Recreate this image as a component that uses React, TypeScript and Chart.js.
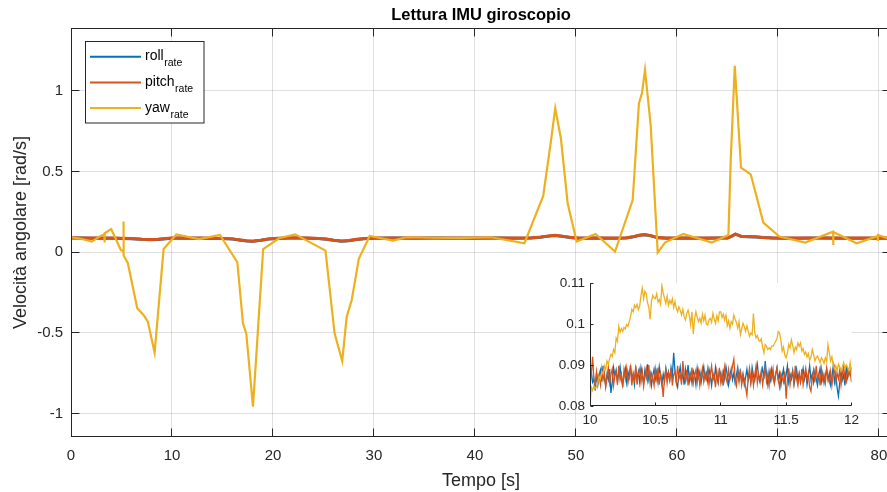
import React, { useEffect, useRef } from 'react';
import { Chart, registerables } from 'chart.js';

Chart.register(...registerables);

const FONT = "'Liberation Sans', Arial, Helvetica, sans-serif";
const AXIS_COLOR = '#262626';
const GRID_COLOR = 'rgba(38,38,38,0.15)';
const SERIES_COLORS = ['#0072BD', '#D95319', '#EDB120'];

const seriesNames = ['roll', 'pitch', 'yaw'];
const seriesSub = 'rate';

const titleText = 'Lettura IMU giroscopio';
const xTitle = 'Tempo [s]';
const yTitle = 'Velocità angolare [rad/s]';

const xTicks = [0, 10, 20, 30, 40, 50, 60, 70, 80];
const yTicks = [-1, -0.5, 0, 0.5, 1];
const xRange = [0, 81.2];
const yRange = [-1.145, 1.39];

// main plot: roll / pitch (same time base)
const rpT = [
  0, 1, 2, 3, 4, 5, 6, 7, 7.8, 8.6,
  9.4, 10, 11, 12, 13, 14, 15, 16, 16.8, 17.4,
  18, 18.8, 19.6, 20.5, 21.5, 22.5, 23.5, 24.5, 25.3, 26,
  26.8, 27.5, 28.3, 29.2, 30, 32, 34, 36, 38, 40,
  42, 44, 45.5, 46.5, 47.3, 47.9, 48.6, 49.4, 50.2, 51,
  52, 53, 54, 55, 55.7, 56.3, 56.8, 57.4, 58.1, 59,
  60, 61, 62, 63, 64, 65, 65.4, 65.8, 66.4, 67,
  67.8, 68.5, 69.5, 70.5, 72, 74, 76, 78, 80, 81.2,
];
const pitchV = [
  0.090, 0.089, 0.088, 0.089, 0.088, 0.087, 0.085, 0.081, 0.079, 0.080,
  0.085, 0.088, 0.089, 0.088, 0.088, 0.087, 0.086, 0.083, 0.076, 0.071,
  0.069, 0.075, 0.083, 0.087, 0.089, 0.090, 0.088, 0.086, 0.082, 0.075,
  0.070, 0.073, 0.080, 0.086, 0.088, 0.089, 0.088, 0.089, 0.088, 0.088,
  0.089, 0.088, 0.089, 0.094, 0.101, 0.105, 0.100, 0.093, 0.088, 0.088,
  0.089, 0.088, 0.088, 0.090, 0.097, 0.106, 0.110, 0.103, 0.091, 0.088,
  0.088, 0.089, 0.088, 0.088, 0.089, 0.089, 0.100, 0.113, 0.098, 0.097,
  0.096, 0.092, 0.089, 0.088, 0.088, 0.089, 0.088, 0.088, 0.088, 0.088,
];
const rollV = [
  0.089, 0.088, 0.087, 0.087, 0.087, 0.086, 0.084, 0.080, 0.078, 0.079,
  0.084, 0.087, 0.088, 0.087, 0.087, 0.086, 0.085, 0.082, 0.075, 0.070,
  0.068, 0.074, 0.082, 0.086, 0.088, 0.089, 0.087, 0.085, 0.081, 0.074,
  0.069, 0.072, 0.079, 0.085, 0.087, 0.088, 0.087, 0.088, 0.087, 0.087,
  0.088, 0.087, 0.088, 0.093, 0.100, 0.104, 0.099, 0.092, 0.087, 0.087,
  0.088, 0.087, 0.087, 0.089, 0.096, 0.105, 0.109, 0.102, 0.090, 0.087,
  0.087, 0.088, 0.087, 0.087, 0.088, 0.088, 0.099, 0.112, 0.097, 0.096,
  0.095, 0.091, 0.088, 0.087, 0.087, 0.088, 0.087, 0.087, 0.087, 0.087,
];

// main plot: yaw
const yawT = [
  0, 1, 2.06, 2.9, 3.3, 3.32, 3.34, 3.98, 4.95, 5.18,
  5.2, 5.22, 5.63, 6.56, 7.2, 7.61, 8.28, 9.17, 10.43, 12.7,
  14.75, 16.47, 17.03, 17.36, 18.02, 19.03, 20.6, 22.2, 25.2, 26.1,
  26.86, 27.3, 27.8, 28.5, 29.58, 31.9, 33.2, 36, 38.5, 41.6,
  44.9, 46.76, 47.5, 47.95, 48.51, 49.18, 50.07, 51.95, 53.87, 55.62,
  56.24, 56.54, 56.84, 57.4, 58.1, 58.82, 60.63, 63.45, 65.1, 65.33,
  65.73, 66.35, 67.31, 68.56, 70.15, 72.7, 75.46, 75.48, 75.5, 77.8,
  79.88, 79.9, 79.92, 81.2,
];
const yawV = [
  0.093, 0.084, 0.066, 0.100, 0.112, 0.060, 0.118, 0.144, 0.012, 0.008,
  0.190, -0.020, -0.068, -0.347, -0.390, -0.430, -0.622, 0.020, 0.110, 0.082,
  0.107, -0.062, -0.440, -0.505, -0.957, 0.019, 0.087, 0.111, 0.010, -0.502,
  -0.674, -0.400, -0.296, -0.040, 0.101, 0.072, 0.093, 0.090, 0.088, 0.093,
  0.056, 0.349, 0.676, 0.893, 0.707, 0.304, 0.066, 0.113, 0.004, 0.324,
  0.924, 0.986, 1.130, 0.789, -0.002, 0.060, 0.113, 0.060, 0.107, 0.572,
  1.155, 0.524, 0.483, 0.184, 0.097, 0.060, 0.128, 0.045, 0.125, 0.056,
  0.100, 0.070, 0.107, 0.080,
];

// inset (zoom 10 s - 12 s), one sample every 0.01 s
const insetStart = 10;
const insetStep = 0.01;
const insetXTicks = [10, 10.5, 11, 11.5, 12];
const insetYTicks = [0.08, 0.09, 0.1, 0.11];
const insetXRange = [10, 12];
const insetYRange = [0.08, 0.11];

const insetYaw = [
  0.0800, 0.0846, 0.0838, 0.0849, 0.0843, 0.0846, 0.0858, 0.0872, 0.0866, 0.0884,
  0.0878, 0.0898, 0.0889, 0.0910, 0.0902, 0.0915, 0.0926, 0.0921, 0.0938, 0.0930,
  0.0966, 0.0958, 0.0994, 0.0980, 0.0989, 0.0982, 0.0992, 0.0988, 0.0999, 0.0994,
  0.1006, 0.1018, 0.1036, 0.1030, 0.1046, 0.1040, 0.1048, 0.1035, 0.1044, 0.1070,
  0.1088, 0.1062, 0.1080, 0.1074, 0.1052, 0.1040, 0.1012, 0.1056, 0.1070, 0.1064,
  0.1062, 0.1074, 0.1054, 0.1060, 0.1048, 0.1094, 0.1076, 0.1062, 0.1050, 0.1068,
  0.1046, 0.1058, 0.1050, 0.1062, 0.1040, 0.1055, 0.1038, 0.1030, 0.1042, 0.1034,
  0.1022, 0.1036, 0.1018, 0.1010, 0.1026, 0.1034, 0.1020, 0.0998, 0.1030, 0.0976,
  0.1012, 0.1030, 0.1016, 0.1006, 0.1014, 0.1002, 0.1024, 0.1008, 0.1022, 0.1000,
  0.0998, 0.1010, 0.1014, 0.1004, 0.1026, 0.1012, 0.1002, 0.1020, 0.1008, 0.1030,
  0.1030, 0.1016, 0.1024, 0.1010, 0.1022, 0.0996, 0.1008, 0.0990, 0.1006, 0.1000,
  0.1022, 0.1012, 0.1004, 0.0990, 0.1006, 0.0974, 0.0988, 0.1002, 0.0994, 0.0982,
  0.0996, 0.0982, 0.0970, 0.0978, 0.0974, 0.1026, 0.0980, 0.0966, 0.0972, 0.0960,
  0.0958, 0.0964, 0.0944, 0.0930, 0.0950, 0.0946, 0.0938, 0.0942, 0.0938, 0.0946,
  0.0946, 0.0952, 0.0958, 0.0964, 0.0982, 0.0978, 0.0960, 0.0934, 0.0944, 0.0924,
  0.0918, 0.0930, 0.0950, 0.0942, 0.0962, 0.0948, 0.0930, 0.0944, 0.0938, 0.0954,
  0.0946, 0.0954, 0.0934, 0.0940, 0.0926, 0.0932, 0.0920, 0.0928, 0.0912, 0.0918,
  0.0938, 0.0926, 0.0910, 0.0918, 0.0922, 0.0914, 0.0906, 0.0918, 0.0912, 0.0904,
  0.0918, 0.0908, 0.0950, 0.0930, 0.0910, 0.0920, 0.0900, 0.0890, 0.0898, 0.0886,
  0.0902, 0.0894, 0.0886, 0.0896, 0.0906, 0.0890, 0.0900, 0.0894, 0.0886, 0.0906,
  0.0878,
];
const insetRoll = [
  0.0874, 0.0884, 0.0858, 0.0866, 0.0838, 0.0880, 0.0852, 0.0876, 0.0888, 0.0860,
  0.0898, 0.0870, 0.0850, 0.0878, 0.0864, 0.0890, 0.0832, 0.0856, 0.0894, 0.0874,
  0.0888, 0.0860, 0.0880, 0.0896, 0.0866, 0.0850, 0.0876, 0.0892, 0.0858, 0.0884,
  0.0870, 0.0900, 0.0864, 0.0878, 0.0852, 0.0890, 0.0866, 0.0884, 0.0858, 0.0894,
  0.0876, 0.0856, 0.0888, 0.0870, 0.0902, 0.0864, 0.0880, 0.0850, 0.0874, 0.0890,
  0.0866, 0.0884, 0.0858, 0.0896, 0.0876, 0.0852, 0.0878, 0.0860, 0.0892, 0.0870,
  0.0884, 0.0864, 0.0894, 0.0874, 0.0930, 0.0886, 0.0858, 0.0846, 0.0878, 0.0896,
  0.0864, 0.0880, 0.0852, 0.0890, 0.0870, 0.0900, 0.0860, 0.0878, 0.0856, 0.0886,
  0.0876, 0.0852, 0.0892, 0.0870, 0.0884, 0.0858, 0.0878, 0.0896, 0.0866, 0.0880,
  0.0860, 0.0890, 0.0874, 0.0850, 0.0880, 0.0864, 0.0894, 0.0870, 0.0856, 0.0888,
  0.0878, 0.0858, 0.0884, 0.0866, 0.0896, 0.0876, 0.0852, 0.0874, 0.0890, 0.0864,
  0.0880, 0.0856, 0.0876, 0.0894, 0.0866, 0.0884, 0.0858, 0.0878, 0.0852, 0.0870,
  0.0890, 0.0864, 0.0880, 0.0856, 0.0894, 0.0874, 0.0862, 0.0884, 0.0902, 0.0870,
  0.0858, 0.0880, 0.0892, 0.0866, 0.0910, 0.0876, 0.0852, 0.0884, 0.0864, 0.0890,
  0.0870, 0.0856, 0.0878, 0.0894, 0.0864, 0.0880, 0.0850, 0.0874, 0.0890, 0.0860,
  0.0876, 0.0898, 0.0858, 0.0878, 0.0866, 0.0886, 0.0852, 0.0870, 0.0890, 0.0864,
  0.0880, 0.0858, 0.0876, 0.0892, 0.0866, 0.0884, 0.0852, 0.0874, 0.0898, 0.0864,
  0.0878, 0.0858, 0.0884, 0.0866, 0.0850, 0.0876, 0.0892, 0.0860, 0.0880, 0.0856,
  0.0874, 0.0890, 0.0864, 0.0880, 0.0852, 0.0870, 0.0896, 0.0858, 0.0878, 0.0844,
  0.0824, 0.0856, 0.0884, 0.0864, 0.0876, 0.0850, 0.0900, 0.0870, 0.0886, 0.0878,
  0.0894,
];
const insetPitch = [
  0.0848, 0.0878, 0.0920, 0.0864, 0.0850, 0.0884, 0.0858, 0.0876, 0.0852, 0.0890,
  0.0864, 0.0880, 0.0846, 0.0870, 0.0894, 0.0856, 0.0876, 0.0890, 0.0850, 0.0874,
  0.0884, 0.0852, 0.0898, 0.0864, 0.0878, 0.0846, 0.0888, 0.0866, 0.0892, 0.0856,
  0.0876, 0.0894, 0.0850, 0.0880, 0.0864, 0.0898, 0.0852, 0.0878, 0.0890, 0.0858,
  0.0884, 0.0848, 0.0874, 0.0892, 0.0864, 0.0900, 0.0856, 0.0880, 0.0870, 0.0850,
  0.0890, 0.0866, 0.0894, 0.0852, 0.0878, 0.0860, 0.0822, 0.0870, 0.0888, 0.0856,
  0.0880, 0.0864, 0.0892, 0.0850, 0.0876, 0.0884, 0.0858, 0.0898, 0.0866, 0.0878,
  0.0852, 0.0910, 0.0874, 0.0860, 0.0888, 0.0850, 0.0878, 0.0866, 0.0894, 0.0856,
  0.0876, 0.0888, 0.0858, 0.0884, 0.0850, 0.0874, 0.0892, 0.0860, 0.0880, 0.0866,
  0.0890, 0.0852, 0.0878, 0.0898, 0.0864, 0.0874, 0.0846, 0.0884, 0.0860, 0.0892,
  0.0858, 0.0880, 0.0850, 0.0894, 0.0870, 0.0856, 0.0888, 0.0864, 0.0878, 0.0898,
  0.0914, 0.0866, 0.0850, 0.0884, 0.0860, 0.0890, 0.0852, 0.0876, 0.0866, 0.0846,
  0.0826, 0.0870, 0.0892, 0.0858, 0.0880, 0.0850, 0.0876, 0.0898, 0.0856, 0.0878,
  0.0864, 0.0886, 0.0852, 0.0874, 0.0894, 0.0860, 0.0878, 0.0850, 0.0884, 0.0866,
  0.0890, 0.0856, 0.0876, 0.0892, 0.0864, 0.0846, 0.0880, 0.0870, 0.0858, 0.0884,
  0.0818, 0.0864, 0.0892, 0.0852, 0.0876, 0.0884, 0.0858, 0.0898, 0.0866, 0.0850,
  0.0878, 0.0860, 0.0890, 0.0852, 0.0874, 0.0892, 0.0864, 0.0880, 0.0846, 0.0836,
  0.0870, 0.0888, 0.0858, 0.0898, 0.0866, 0.0878, 0.0850, 0.0890, 0.0864, 0.0876,
  0.0856, 0.0892, 0.0870, 0.0858, 0.0884, 0.0850, 0.0876, 0.0894, 0.0860, 0.0880,
  0.0866, 0.0888, 0.0852, 0.0878, 0.0898, 0.0864, 0.0858, 0.0890, 0.0874, 0.0884,
  0.0858,
];

const MAIN_W = 900;
const MAIN_H = 492;
const INSET_LEFT = 550;
const INSET_TOP = 270;
const INSET_W = 315;
const INSET_H = 165;

function alignPx(p: number) {
  return Math.round(p - 0.5) + 0.5;
}

const toPoints = (t: number[], v: number[]) => t.map((x, i) => ({ x, y: v[i] }));
const insetPoints = (v: number[]) =>
  v.map((y, i) => ({ x: +(insetStart + i * insetStep).toFixed(2), y }));

const fmt = (v: any) => String(v);

const mainDecor = {
  id: 'mainDecor',
  afterDraw(chart: any) {
    const { ctx, chartArea: ca, scales } = chart;
    const L = alignPx(ca.left + 0.5);
    const R = alignPx(ca.right - 0.5);
    const T = alignPx(ca.top + 0.5);
    const B = alignPx(ca.bottom - 0.5);
    ctx.save();
    ctx.strokeStyle = AXIS_COLOR;
    ctx.lineWidth = 1;
    ctx.strokeRect(L, T, R - L, B - T);
    const tl = 8;
    ctx.beginPath();
    xTicks.forEach((v) => {
      const p = alignPx(scales.x.getPixelForValue(v));
      ctx.moveTo(p, B); ctx.lineTo(p, B - tl);
      ctx.moveTo(p, T); ctx.lineTo(p, T + tl);
    });
    yTicks.forEach((v) => {
      const p = alignPx(scales.y.getPixelForValue(v));
      ctx.moveTo(L, p); ctx.lineTo(L + tl, p);
      ctx.moveTo(R, p); ctx.lineTo(R - tl, p);
    });
    ctx.stroke();

    // title
    ctx.fillStyle = '#000';
    ctx.font = `bold 16.5px ${FONT}`;
    ctx.textAlign = 'center';
    ctx.textBaseline = 'middle';
    ctx.fillText(titleText, (ca.left + ca.right) / 2, 15);

    // legend
    const bx = ca.left + 14.5;
    const by = ca.top + 13.5;
    const bw = 118.5;
    const bh = 81.5;
    ctx.fillStyle = '#fff';
    ctx.fillRect(bx, by, bw, bh);
    ctx.strokeStyle = AXIS_COLOR;
    ctx.strokeRect(bx, by, bw, bh);
    ctx.textAlign = 'left';
    ctx.textBaseline = 'alphabetic';
    seriesNames.forEach((name, i) => {
      const ly = by + 15.2 + i * 25.7;
      ctx.strokeStyle = SERIES_COLORS[i];
      ctx.lineWidth = 2;
      ctx.beginPath();
      ctx.moveTo(bx + 4.5, ly);
      ctx.lineTo(bx + 55.5, ly);
      ctx.stroke();
      ctx.fillStyle = '#000';
      ctx.font = `14px ${FONT}`;
      const tx = bx + 59.5;
      ctx.fillText(name, tx, ly + 3.5);
      const w = ctx.measureText(name).width;
      ctx.font = `10.5px ${FONT}`;
      ctx.fillText(seriesSub, tx + w + 0.5, ly + 9.5);
    });
    ctx.restore();
  },
};

const insetDecor = {
  id: 'insetDecor',
  beforeDraw(chart: any) {
    const { ctx, chartArea: ca } = chart;
    ctx.save();
    ctx.fillStyle = '#fff';
    ctx.fillRect(ca.left, ca.top, ca.right - ca.left, ca.bottom - ca.top);
    ctx.restore();
  },
  afterDraw(chart: any) {
    const { ctx, chartArea: ca, scales } = chart;
    const L = alignPx(ca.left + 0.5);
    const B = alignPx(ca.bottom - 0.5);
    ctx.save();
    ctx.strokeStyle = AXIS_COLOR;
    ctx.lineWidth = 1;
    ctx.beginPath();
    ctx.moveTo(L, ca.top);
    ctx.lineTo(L, B);
    ctx.lineTo(ca.right, B);
    const tl = 3;
    insetXTicks.forEach((v) => {
      const p = alignPx(scales.x.getPixelForValue(v));
      ctx.moveTo(p, B); ctx.lineTo(p, B - tl);
    });
    insetYTicks.forEach((v) => {
      const p = alignPx(scales.y.getPixelForValue(v));
      ctx.moveTo(L, p); ctx.lineTo(L + tl, p);
    });
    ctx.stroke();
    ctx.restore();
  },
};

export default function App() {
  const mainRef = useRef<HTMLCanvasElement | null>(null);
  const insetRef = useRef<HTMLCanvasElement | null>(null);

  useEffect(() => {
    const mainSets = [
      { label: seriesNames[0], data: toPoints(rpT, rollV), borderColor: SERIES_COLORS[0], borderWidth: 3, order: 3 },
      { label: seriesNames[1], data: toPoints(rpT, pitchV), borderColor: SERIES_COLORS[1], borderWidth: 3, order: 2 },
      { label: seriesNames[2], data: toPoints(yawT, yawV), borderColor: SERIES_COLORS[2], borderWidth: 2.2, order: 1 },
    ].map((d) => ({ ...d, pointRadius: 0, fill: false, tension: 0, backgroundColor: d.borderColor }));

    const main = new Chart(mainRef.current as HTMLCanvasElement, {
      type: 'line',
      data: { datasets: mainSets as any },
      options: {
        animation: false,
        responsive: false,
        devicePixelRatio: 1,
        layout: { padding: { top: 28, right: MAIN_W - 891, left: 0, bottom: 0 } },
        plugins: { legend: { display: false }, tooltip: { enabled: false }, title: { display: false } },
        scales: {
          x: {
            type: 'linear',
            min: xRange[0],
            max: xRange[1],
            afterBuildTicks: (s: any) => { s.ticks = xTicks.map((value) => ({ value })); },
            afterFit: (s: any) => { s.height = 55; },
            ticks: { autoSkip: false, maxRotation: 0, padding: 10, color: AXIS_COLOR, font: { family: FONT, size: 15 }, callback: fmt },
            grid: { color: GRID_COLOR, lineWidth: 1, drawTicks: false },
            border: { display: false },
            title: { display: true, text: xTitle, color: AXIS_COLOR, font: { family: FONT, size: 18 }, padding: { top: 0, bottom: 0 } },
          },
          y: {
            type: 'linear',
            min: yRange[0],
            max: yRange[1],
            afterBuildTicks: (s: any) => { s.ticks = yTicks.map((value) => ({ value })); },
            afterFit: (s: any) => { s.width = 71; },
            ticks: { autoSkip: false, padding: 8, color: AXIS_COLOR, font: { family: FONT, size: 15 }, callback: fmt },
            grid: { color: GRID_COLOR, lineWidth: 1, drawTicks: false },
            border: { display: false },
            title: { display: true, text: yTitle, color: AXIS_COLOR, font: { family: FONT, size: 18 }, padding: { top: 10, bottom: 0 } },
          },
        },
      } as any,
      plugins: [mainDecor],
    });

    const insetSets = [
      { label: seriesNames[0], data: insetPoints(insetRoll), borderColor: SERIES_COLORS[0], order: 3 },
      { label: seriesNames[1], data: insetPoints(insetPitch), borderColor: SERIES_COLORS[1], order: 2 },
      { label: seriesNames[2], data: insetPoints(insetYaw), borderColor: SERIES_COLORS[2], order: 1 },
    ].map((d) => ({ ...d, borderWidth: 1.3, pointRadius: 0, fill: false, tension: 0 }));

    const inset = new Chart(insetRef.current as HTMLCanvasElement, {
      type: 'line',
      data: { datasets: insetSets as any },
      options: {
        animation: false,
        responsive: false,
        devicePixelRatio: 1,
        layout: { padding: { top: 11, right: 9, left: 0, bottom: 0 } },
        plugins: { legend: { display: false }, tooltip: { enabled: false }, title: { display: false } },
        scales: {
          x: {
            type: 'linear',
            min: insetXRange[0],
            max: insetXRange[1],
            afterBuildTicks: (s: any) => { s.ticks = insetXTicks.map((value) => ({ value })); },
            afterFit: (s: any) => { s.height = 29; },
            ticks: { autoSkip: false, maxRotation: 0, padding: 6, color: AXIS_COLOR, font: { family: FONT, size: 13.5 }, callback: fmt },
            grid: { display: false, drawTicks: false },
            border: { display: false },
          },
          y: {
            type: 'linear',
            min: insetYRange[0],
            max: insetYRange[1],
            afterBuildTicks: (s: any) => { s.ticks = insetYTicks.map((value) => ({ value })); },
            afterFit: (s: any) => { s.width = 40; },
            ticks: { autoSkip: false, padding: 5, color: AXIS_COLOR, font: { family: FONT, size: 13.5 }, callback: fmt },
            grid: { display: false, drawTicks: false },
            border: { display: false },
          },
        },
      } as any,
      plugins: [insetDecor],
    });

    return () => {
      main.destroy();
      inset.destroy();
    };
  }, []);

  return (
    <div style={{ position: 'fixed', left: 0, top: 0, width: 887, height: 492, overflow: 'hidden', background: '#fff' }}>
      <canvas ref={mainRef} width={MAIN_W} height={MAIN_H} style={{ position: 'absolute', left: 0, top: 0, display: 'block' }} />
      <canvas ref={insetRef} width={INSET_W} height={INSET_H} style={{ position: 'absolute', left: INSET_LEFT, top: INSET_TOP, display: 'block' }} />
    </div>
  );
}
